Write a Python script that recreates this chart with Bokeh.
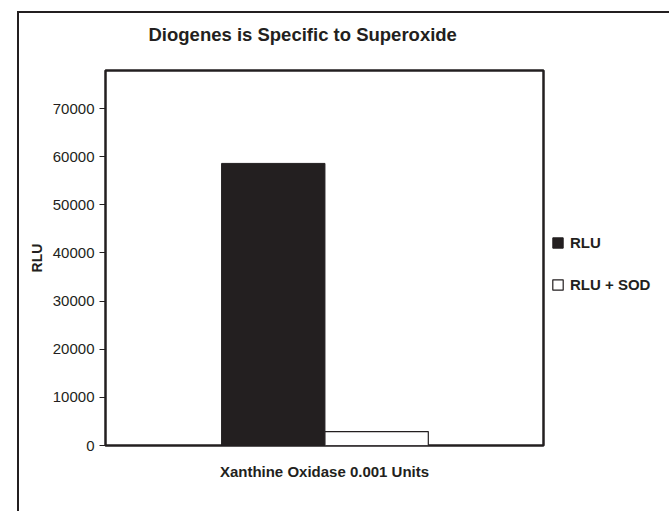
from bokeh.plotting import figure
from bokeh.models import FactorRange, Range1d, Legend, LegendItem, ColumnDataSource, FixedTicker, Title
from bokeh.transform import dodge
from bokeh.embed import file_html
from bokeh.resources import INLINE

categories = ["Xanthine Oxidase 0.001 Units"]
series_names = ["RLU", "RLU + SOD"]
rlu = [58600]
rlu_sod = [2900]
y_ticks = [0, 10000, 20000, 30000, 40000, 50000, 60000, 70000]

INK = "#231f20"
FONT = "Liberation Sans"

src = ColumnDataSource(dict(cat=categories, rlu=rlu, rlu_sod=rlu_sod))

p = figure(x_range=FactorRange(factors=categories), y_range=Range1d(0, 77900),
           frame_width=438, frame_height=375,
           min_border_left=86, min_border_right=126, min_border_top=57, min_border_bottom=66,
           output_backend="svg", toolbar_location=None, background_fill_color="white",
           border_fill_color="white")
p.margin = (11, 0, 0, 17)
p.styles = {"border-left": "2px solid #231f20", "border-top": "2px solid #231f20"}

p.title.text = "Diogenes is Specific to Superoxide"
p.title.align = "left"
p.title.offset = 43
p.title.text_font = FONT
p.title.text_font_size = "18.5px"
p.title.text_font_style = "bold"
p.title.text_color = INK
p.title.standoff = 10

# empty spacer between the title and the frame
p.add_layout(Title(text=" ", text_font_size="16px", standoff=2), "above")

r1 = p.vbar(x=dodge("cat", -0.117, range=p.x_range), top="rlu", width=0.236, source=src,
            fill_color=INK, line_color=INK, line_width=1)
r2 = p.vbar(x=dodge("cat", 0.119, range=p.x_range), top="rlu_sod", width=0.236, source=src,
            fill_color="white", line_color=INK, line_width=1.2)

p.outline_line_color = INK
p.outline_line_width = 2.5
p.xgrid.visible = False
p.ygrid.visible = False

p.yaxis.ticker = FixedTicker(ticks=y_ticks)
p.yaxis.axis_line_color = None
p.yaxis.major_tick_in = 0
p.yaxis.major_tick_out = 6
p.yaxis.major_tick_line_color = INK
p.yaxis.major_tick_line_width = 1
p.yaxis.minor_tick_line_color = None
p.yaxis.major_label_text_font = FONT
p.yaxis.major_label_text_font_size = "15px"
p.yaxis.major_label_text_color = INK
p.yaxis.major_label_standoff = 5
p.yaxis.axis_label = "RLU"
p.yaxis.axis_label_text_font = FONT
p.yaxis.axis_label_text_font_size = "14px"
p.yaxis.axis_label_text_font_style = "bold"
p.yaxis.axis_label_text_color = INK
p.yaxis.axis_label_standoff = 5
p.yaxis.formatter.use_scientific = False

p.xaxis.axis_line_color = None
p.xaxis.major_tick_line_color = None
p.xaxis.minor_tick_line_color = None
p.xaxis.major_label_text_font = FONT
p.xaxis.major_label_text_font_size = "15px"
p.xaxis.major_label_text_font_style = "bold"
p.xaxis.major_label_text_color = INK
p.xaxis.major_label_standoff = 11

legend = Legend(items=[LegendItem(label=series_names[0], renderers=[r1]),
                       LegendItem(label=series_names[1], renderers=[r2])],
                location=(8, 152), orientation="vertical",
                glyph_width=13, glyph_height=13, label_height=13,
                label_standoff=6, spacing=25, padding=0, margin=0,
                border_line_color=None, background_fill_alpha=0,
                label_text_font=FONT, label_text_font_size="15px",
                label_text_font_style="bold", label_text_color=INK)
p.add_layout(legend, "right")

open("out.html", "w").write(file_html(p, INLINE))
